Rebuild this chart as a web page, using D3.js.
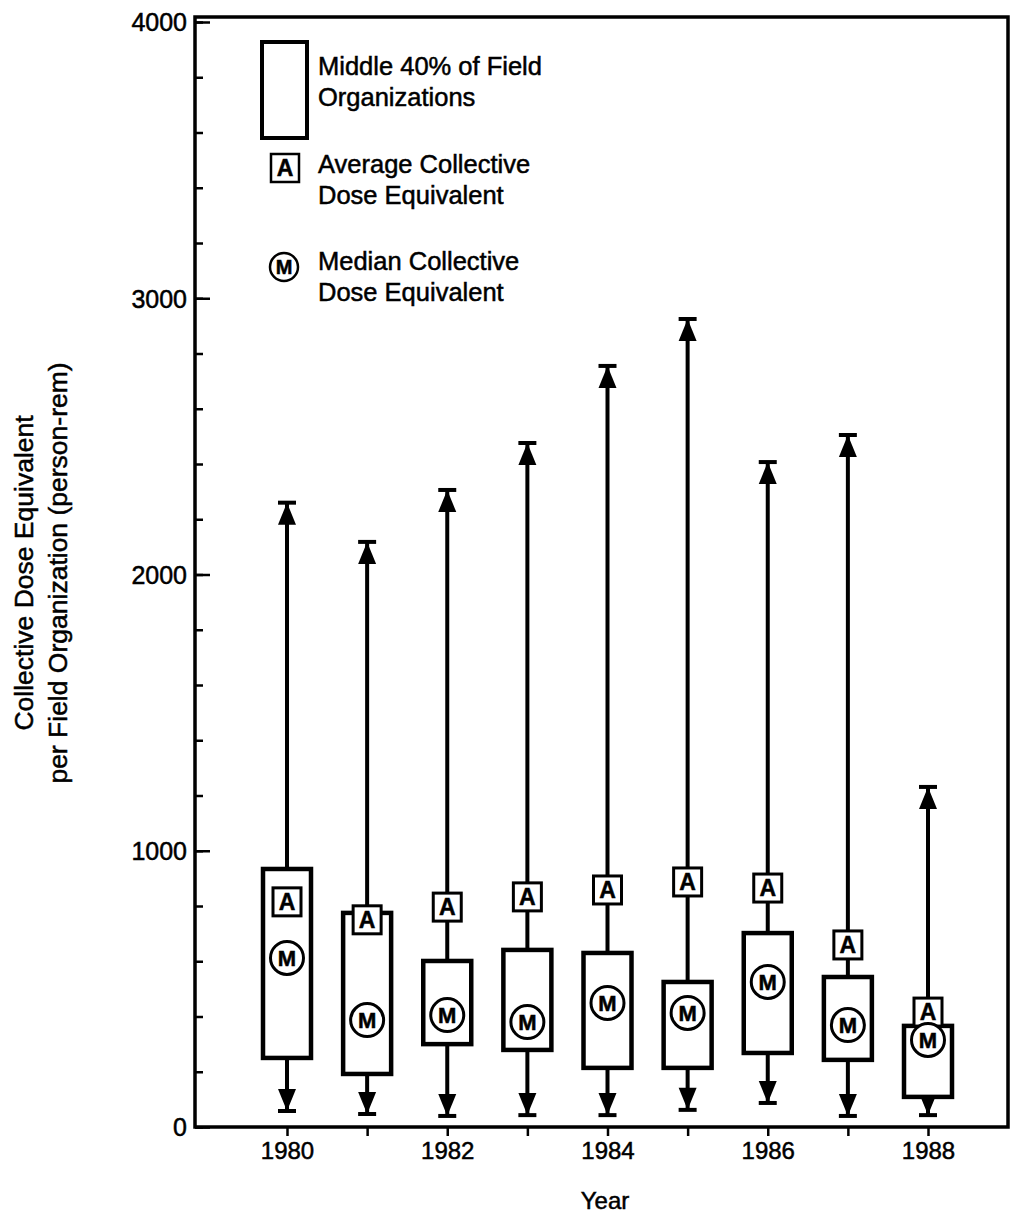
<!DOCTYPE html>
<html>
<head>
<meta charset="utf-8">
<script src="https://cdn.jsdelivr.net/npm/d3@7"></script>
<style>
  body { margin: 0; background: #fff; }
  svg text { font-family: "Liberation Sans", Arial, Helvetica, sans-serif; fill: #000; stroke: #000; stroke-width: 0.5; }
</style>
</head>
<body>
<svg id="view" width="1020" height="1216"></svg>
<script>
// data (person-rem)
var years   = [1980, 1981, 1982, 1983, 1984, 1985, 1986, 1987, 1988];
var maxVals = [2260, 2118, 2306, 2476, 2755, 2925, 2407, 2505, 1231];
var boxTop  = [ 934,  775,  601,  641,  630,  525,  702,  543,  366];
var boxBot  = [ 250,  192,  300,  279,  214,  214,  268,  243,  109];
var average = [ 815,  750,  796,  833,  858,  887,  865,  659,  416];
var median  = [ 612,  387,  405,  380,  449,  413,  525,  369,  315];
var minVals = [  58,   47,   40,   43,   43,   62,   87,   40,   43];
var yMajor  = [0, 1000, 2000, 3000, 4000];
var yMinor  = d3.range(0, 4001, 200);
var xLabels = [1980, 1982, 1984, 1986, 1988];

var svg = d3.select('svg#view');

var plot = {left: 195, right: 1008, top: 17, bottom: 1127};

var x = d3.scaleLinear().domain([1980, 1988]).range([287, 928]);
var y = d3.scaleLinear().domain([0, 4000]).range([plot.bottom, 22]);

// frame
svg.append('rect')
	.attr('x', plot.left).attr('y', plot.top)
	.attr('width', plot.right - plot.left).attr('height', plot.bottom - plot.top)
	.attr('fill', 'none').attr('stroke', '#000').attr('stroke-width', 3.5);

// y axis: minor ticks then major ticks with labels
var yMinorAxis = svg.append('g').attr('transform', 'translate(' + plot.left + ',0)')
	.call(d3.axisLeft(y).tickValues(yMinor).tickSize(-8).tickFormat(''));
var yMajorAxis = svg.append('g').attr('transform', 'translate(' + plot.left + ',0)')
	.call(d3.axisLeft(y).tickValues(yMajor).tickSize(-15).tickPadding(8).tickFormat(d3.format('d')));
[yMinorAxis, yMajorAxis].forEach(function(g) {
	g.select('.domain').remove();
	g.selectAll('.tick line').attr('stroke', '#000').attr('stroke-width', 2.5);
});
yMajorAxis.selectAll('.tick text').attr('font-size', 25).attr('dy', '0.35em');

// x axis
var xAxis = svg.append('g').attr('transform', 'translate(0,' + plot.bottom + ')')
	.call(d3.axisBottom(x).tickValues(years).tickSize(9).tickPadding(6)
		.tickFormat(function(d) { return xLabels.indexOf(d) >= 0 ? d : ''; }));
xAxis.select('.domain').remove();
xAxis.selectAll('.tick line').attr('stroke', '#000').attr('stroke-width', 2.5);
xAxis.selectAll('.tick text').attr('font-size', 24);

// axis titles
svg.append('text').attr('x', 605).attr('y', 1209).attr('text-anchor', 'middle')
	.attr('font-size', 24).text('Year');
var yt = svg.append('text').attr('transform', 'translate(0,573) rotate(-90)')
	.attr('text-anchor', 'middle').attr('font-size', 26.5);
yt.append('tspan').attr('x', 0).attr('y', 33).text('Collective Dose Equivalent');
yt.append('tspan').attr('x', 0).attr('y', 67).text('per Field Organization (person-rem)');

// arrow: tip at (cx, ty), pointing up (dir=-1) or down (dir=1)
function arrow(g, cx, ty, dir) {
	var h = 22, w = 9;
	g.append('path')
		.attr('d', 'M' + cx + ',' + ty + 'L' + (cx - w) + ',' + (ty - dir * h) + 'L' + (cx + w) + ',' + (ty - dir * h) + 'Z')
		.attr('fill', '#000');
	g.append('line').attr('x1', cx - 9).attr('x2', cx + 9).attr('y1', ty).attr('y2', ty)
		.attr('stroke', '#000').attr('stroke-width', 4);
}

function markA(g, cx, cy, s, sw, fs) {
	g.append('rect').attr('x', cx - s / 2).attr('y', cy - s / 2).attr('width', s).attr('height', s)
		.attr('fill', '#fff').attr('stroke', '#000').attr('stroke-width', sw);
	g.append('text').attr('x', cx).attr('y', cy).attr('dy', '0.36em').attr('text-anchor', 'middle')
		.attr('font-size', fs).attr('font-weight', 'bold').text('A');
}

function markM(g, cx, cy, r, sw, fs) {
	g.append('circle').attr('cx', cx).attr('cy', cy).attr('r', r)
		.attr('fill', '#fff').attr('stroke', '#000').attr('stroke-width', sw);
	g.append('text').attr('x', cx).attr('y', cy).attr('dy', '0.36em').attr('text-anchor', 'middle')
		.attr('font-size', fs).attr('font-weight', 'bold').text('M');
}

var boxW = 48;
years.forEach(function(yr, i) {
	var g = svg.append('g');
	var cx = x(yr);
	// whisker
	g.append('line').attr('x1', cx).attr('x2', cx)
		.attr('y1', y(maxVals[i])).attr('y2', y(minVals[i]))
		.attr('stroke', '#000').attr('stroke-width', 4);
	arrow(g, cx, y(maxVals[i]), -1);
	arrow(g, cx, y(minVals[i]), 1);
	// box
	g.append('rect').attr('x', cx - boxW / 2).attr('y', y(boxTop[i]))
		.attr('width', boxW).attr('height', y(boxBot[i]) - y(boxTop[i]))
		.attr('fill', '#fff').attr('stroke', '#000').attr('stroke-width', 4.5);
	markA(g, cx, y(average[i]), 28, 3, 23);
	markM(g, cx, y(median[i]), 16.5, 3, 22);
});

// legend
var lg = svg.append('g');
lg.append('rect').attr('x', 262).attr('y', 42).attr('width', 45).attr('height', 96)
	.attr('fill', '#fff').attr('stroke', '#000').attr('stroke-width', 4);
markA(lg, 285, 168, 28, 2.5, 23);
markM(lg, 284, 267, 14, 2.5, 20);
var legendText = [
	['Middle 40% of Field', 'Organizations', 75],
	['Average Collective', 'Dose Equivalent', 173],
	['Median Collective', 'Dose Equivalent', 270]
];
legendText.forEach(function(t) {
	var tx = lg.append('text').attr('font-size', 25.5);
	tx.append('tspan').attr('x', 318).attr('y', t[2]).text(t[0]);
	tx.append('tspan').attr('x', 318).attr('y', t[2] + 31).text(t[1]);
});
</script>
</body>
</html>
